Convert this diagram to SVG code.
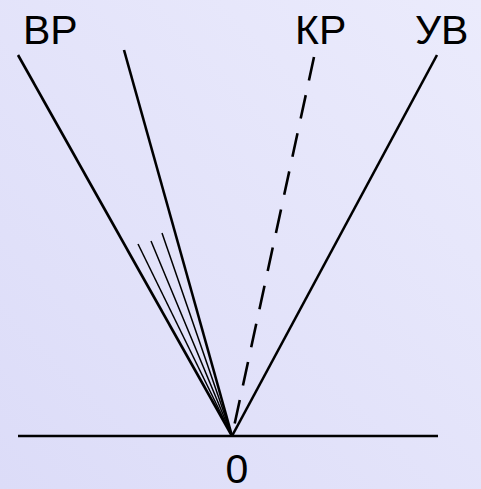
<svg xmlns="http://www.w3.org/2000/svg" width="481" height="489" viewBox="0 0 481 489">
<defs>
<linearGradient id="bg" x1="0" y1="1" x2="1" y2="0">
<stop offset="0" stop-color="#dcdcf8"/>
<stop offset="1" stop-color="#ebebfc"/>
</linearGradient>
</defs>
<style>
.t{font-family:"Liberation Sans",Arial,sans-serif;font-size:41px;fill:#000}
.thick{stroke:#000;stroke-width:2.6;fill:none}
.thin{stroke:#000;stroke-width:1.5;fill:none}
.dash{stroke:#000;stroke-width:2.6;fill:none;stroke-dasharray:24 15}
</style>
<rect width="481" height="489" fill="url(#bg)"/>
<g id="connectors">
<line class="thick" x1="18" y1="436" x2="438" y2="436"/>
<line class="thick" x1="232" y1="436" x2="18" y2="55"/>
<line class="thick" x1="232" y1="436" x2="124" y2="50"/>
<line class="thin" x1="232" y1="436" x2="138" y2="244"/>
<line class="thin" x1="232" y1="436" x2="151" y2="241"/>
<line class="thin" x1="232" y1="436" x2="162" y2="233"/>
<line class="dash" x1="314" y1="57" x2="232" y2="436"/>
<line class="thick" x1="232" y1="436" x2="437" y2="55"/>
</g>
<g id="label-BP"><text class="t" x="23" y="44">ВР</text></g>
<g id="label-KP"><text class="t" x="295" y="44">КР</text></g>
<g id="label-YB"><text class="t" x="415" y="44">УВ</text></g>
<g id="label-0"><text class="t" x="237" y="483" text-anchor="middle">0</text></g>
</svg>
